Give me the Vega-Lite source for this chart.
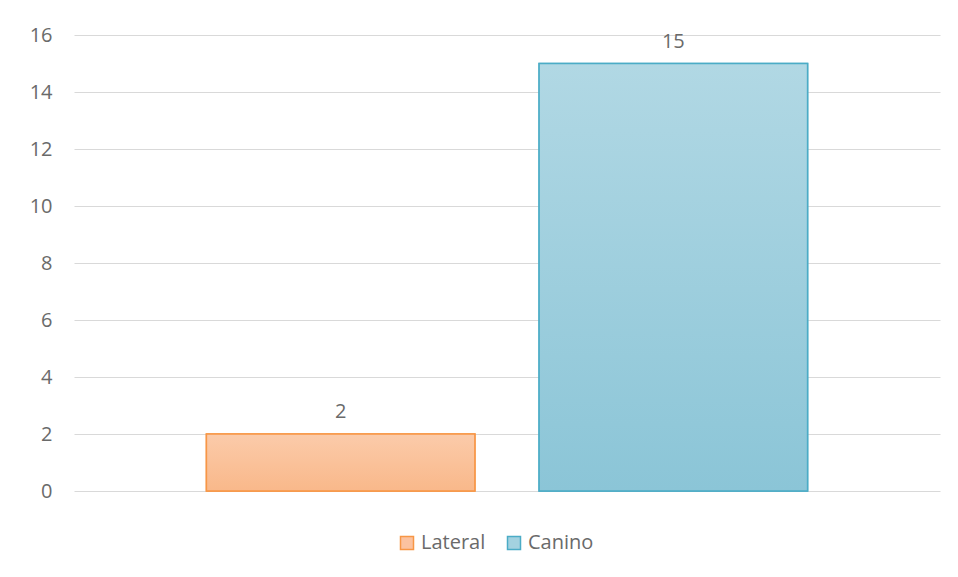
{
  "$schema": "https://vega.github.io/schema/vega-lite/v6.json",
  "width": 866,
  "height": 456,
  "autosize": "none",
  "padding": {"left": 74, "top": 35, "right": 18, "bottom": 86},
  "background": "white",
  "config": {
    "view": {"stroke": null},
    "font": "Open Sans",
    "axis": {"labelFont": "Open Sans", "labelColor": "#6a6a6a", "labelFontSize": 20},
    "legend": {"labelFont": "Open Sans", "labelColor": "#6a6a6a", "labelFontSize": 20}
  },
  "data": {
    "values": [
      {"serie": "Lateral", "valor": 2},
      {"serie": "Canino", "valor": 15}
    ]
  },
  "encoding": {
    "x": {
      "field": "serie",
      "type": "nominal",
      "sort": ["Lateral", "Canino"],
      "scale": {"paddingInner": 0.193, "paddingOuter": 0.398},
      "axis": null
    },
    "y": {
      "field": "valor",
      "type": "quantitative",
      "scale": {"domain": [0, 16], "nice": false},
      "axis": {
        "values": [0, 2, 4, 6, 8, 10, 12, 14, 16],
        "title": null,
        "domain": false,
        "ticks": false,
        "grid": true,
        "gridColor": "#d9d9d9",
        "gridWidth": 1,
        "labelPadding": 22
      }
    }
  },
  "layer": [
    {
      "mark": {"type": "bar", "strokeWidth": 1.5},
      "encoding": {
        "fill": {
          "field": "serie",
          "type": "nominal",
          "scale": {"domain": ["Lateral", "Canino"], "range": ["#fbc2a0", "#a3d2e0"]},
          "legend": {
            "title": null,
            "orient": "none",
            "direction": "horizontal",
            "legendX": 323,
            "legendY": 498,
            "symbolType": "square",
            "symbolSize": 169,
            "symbolStrokeWidth": 1.5,
            "symbolOpacity": 1,
            "columnPadding": 18,
            "labelOffset": 4
          }
        },
        "stroke": {
          "field": "serie",
          "type": "nominal",
          "scale": {"domain": ["Lateral", "Canino"], "range": ["#f79646", "#4bacc6"]},
          "legend": null
        }
      }
    },
    {
      "transform": [{"filter": "datum.serie === 'Lateral'"}],
      "mark": {
        "type": "bar",
        "stroke": "#f79646",
        "strokeWidth": 1.5,
        "fill": {
          "gradient": "linear", "x1": 0, "y1": 0, "x2": 0, "y2": 1,
          "stops": [{"offset": 0, "color": "#fbcbaa"}, {"offset": 1, "color": "#f9b88a"}]
        }
      }
    },
    {
      "transform": [{"filter": "datum.serie === 'Canino'"}],
      "mark": {
        "type": "bar",
        "stroke": "#4bacc6",
        "strokeWidth": 1.5,
        "fill": {
          "gradient": "linear", "x1": 0, "y1": 0, "x2": 0, "y2": 1,
          "stops": [{"offset": 0, "color": "#b1d8e4"}, {"offset": 1, "color": "#8bc5d7"}]
        }
      }
    },
    {
      "mark": {"type": "text", "baseline": "alphabetic", "dy": -16, "fontSize": 20, "color": "#6a6a6a", "font": "Open Sans"},
      "encoding": {"text": {"field": "valor", "type": "quantitative"}}
    }
  ]
}
